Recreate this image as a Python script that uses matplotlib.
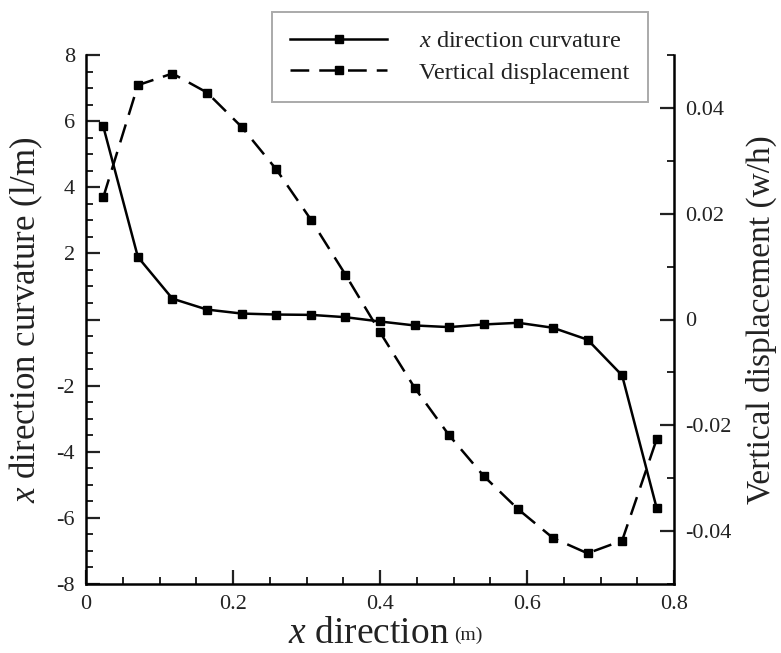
import numpy as np
import matplotlib
matplotlib.use("Agg")
import matplotlib.pyplot as plt
from matplotlib.ticker import MultipleLocator, FixedLocator, FuncFormatter

plt.rcParams['font.family'] = ['Liberation Serif', 'DejaVu Serif']
plt.rcParams['mathtext.fontset'] = 'custom'
plt.rcParams['mathtext.rm'] = 'Liberation Serif'
plt.rcParams['mathtext.it'] = 'Liberation Serif:italic'
plt.rcParams['axes.unicode_minus'] = False

# data
x_pos = [0.0235, 0.0706, 0.1176, 0.1647, 0.2118, 0.2588, 0.3059, 0.3529, 0.4000,
         0.4471, 0.4941, 0.5412, 0.5882, 0.6353, 0.6824, 0.7294, 0.7765]
curvature = [5.84, 1.89, 0.63, 0.30, 0.18, 0.15, 0.14, 0.07, -0.06,
             -0.18, -0.23, -0.15, -0.10, -0.25, -0.61, -1.69, -5.71]
displacement = [0.0231, 0.0443, 0.0465, 0.0429, 0.0364, 0.0284, 0.0189, 0.0085, -0.0024,
                -0.0129, -0.0219, -0.0296, -0.0359, -0.0413, -0.0442, -0.0418, -0.0226]
x_ticks = [0, 0.2, 0.4, 0.6, 0.8]
left_ticks = [-8, -6, -4, -2, 0, 2, 4, 6, 8]
right_ticks = [-0.04, -0.02, 0, 0.02, 0.04]

fig = plt.figure(figsize=(7.81, 6.53), dpi=100)
ax = fig.add_axes([86/781, 1-584/653, 588/781, 529/653])
ax2 = ax.twinx()

l1, = ax.plot(x_pos, curvature, color='black', lw=1.8, marker='s', ms=5.8,
              label=r'$x$ direction curvature')
l2, = ax2.plot(x_pos, displacement, color='black', lw=1.8, marker='s', ms=5.8,
               linestyle=(0, (7.5, 4)), label='Vertical displacement')

ax.set_xlim(0, 0.8)
ax.set_ylim(-8, 8)
ax2.set_ylim(-0.05, 0.05)

for a in (ax, ax2):
    a.spines['top'].set_visible(False)
    for s in a.spines.values():
        s.set_linewidth(1.8)
ax.spines['right'].set_visible(False)
ax2.spines['left'].set_visible(False)
ax2.spines['bottom'].set_visible(False)

ax.xaxis.set_major_locator(FixedLocator(x_ticks))
ax.xaxis.set_minor_locator(MultipleLocator(0.05))
ax.xaxis.set_major_formatter(FuncFormatter(lambda v, p: '0' if abs(v) < 1e-9 else f'{v:g}'))
ax.yaxis.set_major_locator(FixedLocator(left_ticks))
ax.yaxis.set_minor_locator(MultipleLocator(0.5))
ax.yaxis.set_major_formatter(FuncFormatter(lambda v, p: '' if abs(v) < 1e-9 else f'{v:g}'))
ax2.yaxis.set_major_locator(FixedLocator(right_ticks))
ax2.yaxis.set_minor_locator(MultipleLocator(0.01))
ax2.yaxis.set_major_formatter(FuncFormatter(lambda v, p: '0' if abs(v) < 1e-9 else f'{v:g}'))

ax.tick_params(axis='both', which='major', direction='in', length=10, width=1.6,
               labelsize=16, top=False, right=False, pad=8, colors='#222222')
ax.tick_params(axis='both', which='minor', direction='in', length=5, width=1.2,
               top=False, right=False)
ax2.tick_params(axis='y', which='major', direction='in', length=10, width=1.6,
                labelsize=16, left=False, right=True, pad=8, colors='#222222')
ax2.tick_params(axis='y', which='minor', direction='in', length=5, width=1.2,
                left=False, right=True)

ax.set_ylabel(r'$x$ direction curvature (l/m)', fontsize=25, labelpad=8, color='#222222')
ax2.set_ylabel('Vertical displacement (w/h)', fontsize=24, labelpad=10, color='#222222')
xl = ax.set_xlabel(r'$x$ direction', fontsize=27, labelpad=2, color='#222222')
ax.xaxis.label.set_x(0.48)
ax.annotate('(m)', xy=(1, 0), xycoords=xl, xytext=(4, 5), textcoords='offset points',
            fontsize=14, ha='left', va='bottom', color='#222222')

leg = fig.legend(handles=[l1, l2], loc='upper left',
                 bbox_to_anchor=(272/781, 1-12/653), fontsize=17.5, borderaxespad=0,
                 frameon=True, fancybox=False, framealpha=1, edgecolor='#aaaaaa',
                 handlelength=4.0, borderpad=0.75, labelspacing=0.4, handletextpad=1.3)
leg.get_frame().set_linewidth(1.4)
for t in leg.get_texts():
    t.set_color('#222222')

fig.savefig('out.png', dpi=100)
